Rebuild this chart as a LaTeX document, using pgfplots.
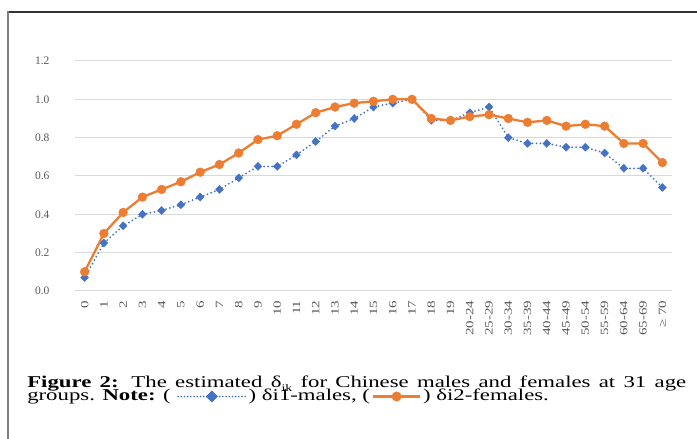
\documentclass[border=0pt]{standalone}
\usepackage{fontspec}
\setmainfont{Liberation Serif}
\usepackage{pgfplots}
\pgfplotsset{compat=1.18}
\usepackage{pgfplotstable}
\definecolor{xlblue}{HTML}{4472C4}
\definecolor{xlorange}{HTML}{ED7D31}
\definecolor{gridgray}{HTML}{D9D9D9}
\definecolor{tickgray}{HTML}{595959}
\newcommand\capfont{\fontsize{16.5}{13.3}\selectfont}
\pgfmathsetmacro\capscale{1.38}
\pgfmathsetmacro\capw{659/\capscale}
\pgfmathsetmacro\circrx{5/\capscale}

\pgfplotstableread{
x m f
0 0.07 0.10
1 0.25 0.30
2 0.34 0.41
3 0.40 0.49
4 0.42 0.53
5 0.45 0.57
6 0.49 0.62
7 0.53 0.66
8 0.59 0.72
9 0.65 0.79
10 0.65 0.81
11 0.71 0.87
12 0.78 0.93
13 0.86 0.96
14 0.90 0.98
15 0.96 0.99
16 0.98 1.00
17 1.00 1.00
18 0.89 0.90
19 0.89 0.89
20 0.93 0.91
21 0.96 0.92
22 0.80 0.90
23 0.77 0.88
24 0.77 0.89
25 0.75 0.86
26 0.75 0.87
27 0.72 0.86
28 0.64 0.77
29 0.64 0.77
30 0.54 0.67
}\datatable

\begin{document}
\begin{tikzpicture}
\useasboundingbox (0pt,0pt) rectangle (697pt,439pt);
\fill[white] (0pt,0pt) rectangle (697pt,439pt);
\draw[line width=1.2pt, color=black!80] (8pt,427pt) -- (697pt,427pt);
\draw[line width=1.2pt, color=black!50] (8pt,0pt) -- (8pt,427.6pt);

\begin{axis}[
  at={(75pt,148pt)}, anchor=south west,
  scale only axis, width=597pt, height=230pt,
  xmin=-0.5, xmax=30.5, ymin=0, ymax=1.2,
  ytick={0,0.2,0.4,0.6,0.8,1.0,1.2},
  yticklabel style={/pgf/number format/fixed, /pgf/number format/fixed zerofill, /pgf/number format/precision=1, xshift=-22pt},
  xtick={0,...,30},
  xticklabels={0,1,2,3,4,5,6,7,8,9,10,11,12,13,14,15,16,17,18,19,20-24,25-29,30-34,35-39,40-44,45-49,50-54,55-59,60-64,65-69,{≥ 70}},
  /pgf/number format/assume math mode=true,
  tick label style={font=\fontsize{11.5}{12}\selectfont, text=tickgray},
  xticklabel style={font=\fontsize{15}{15}\selectfont, rotate=90, yscale=0.74, anchor=east, xshift=-6pt},
  axis line style={draw=none},
  major tick length=0pt,
  ymajorgrids, grid style={color=gridgray, line width=1pt},
  clip=false,
]
\addplot[xlblue, line width=2pt, line cap=round, dash pattern=on 0pt off 4pt,
  mark=diamond*, mark size=4pt,
  mark options={solid, fill=xlblue, draw=xlblue, line width=0.4pt, xscale=1.3}]
  table[x=x, y=m]{\datatable};
\addplot[xlorange, line width=2.3pt,
  mark=*, mark size=4.4pt,
  mark options={solid, fill=xlorange, draw=xlorange, line width=0.4pt}]
  table[x=x, y=f]{\datatable};
\end{axis}

\begin{scope}[shift={(27pt,51.3pt)}, xscale=\capscale]
\node[anchor=base west, inner sep=0pt, transform shape] at (0,0)
  {\hbox to \capw pt{\capfont\textbf{Figure 2:} The estimated δ\raisebox{-4pt}{\fontsize{10}{10}\selectfont ik} for Chinese males and females at 31 age}};
\end{scope}
\begin{scope}[shift={(27pt,38pt)}, xscale=\capscale]
\node[anchor=base west, inner sep=0pt, transform shape] (g) at (0,0) {\capfont groups. \textbf{Note:} (};
\draw[xlblue, line width=1.8pt, line cap=round, dash pattern=on 0pt off 3.2pt] (g.base east) ++(5pt,4.5pt) -- ++(49pt,0pt);
\fill[xlblue] (g.base east) ++(29.5pt,4.5pt) ++(-4.4pt,0pt) -- ++(4.4pt,6pt) -- ++(4.4pt,-6pt) -- ++(-4.4pt,-6pt) -- cycle;
\path (g.base east) ++(56pt,0pt) node[anchor=base west, inner sep=0pt, transform shape] (h) {\capfont) δi1-males, (};
\draw[xlorange, line width=2.8pt] (h.base east) ++(2pt,4.5pt) -- ++(34pt,0pt);
\fill[xlorange] (h.base east) ++(19pt,4.5pt) ellipse [x radius=\circrx pt, y radius=5pt];
\path (h.base east) ++(38pt,0pt) node[anchor=base west, inner sep=0pt, transform shape] {\capfont) δi2-females.};
\end{scope}
\end{tikzpicture}
\end{document}
